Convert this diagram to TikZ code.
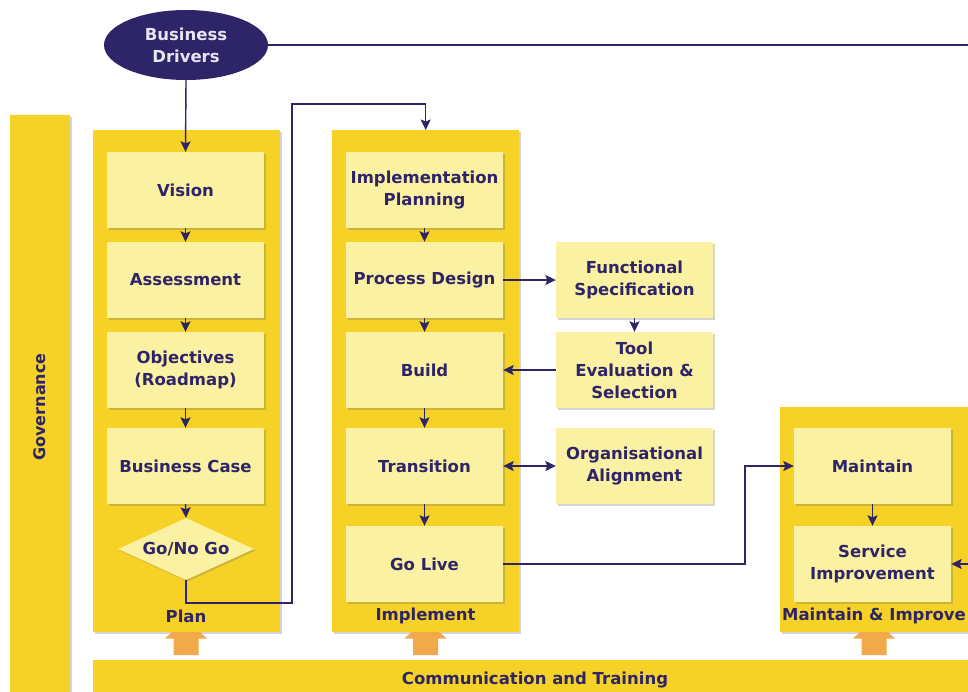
\documentclass[tikz,border=0pt]{standalone}
\usepackage{fontspec}
\setmainfont{DejaVu Sans}
\usetikzlibrary{shapes.geometric,arrows.meta,shadows}
\definecolor{navy}{HTML}{2E2468}
\definecolor{panelY}{HTML}{F5D225}
\definecolor{boxY}{HTML}{FBF1A3}
\definecolor{orng}{HTML}{F2A94B}
\definecolor{lighttxt}{HTML}{E6E6F2}
\begin{document}
\begin{tikzpicture}[x=1pt,y=-1pt,
  shad/.style={drop shadow={shadow xshift=1.6pt,shadow yshift=-1.6pt,opacity=.28,fill=black!60}},
  panel/.style={fill=panelY,draw=none,shad,anchor=north west,inner sep=0pt},
  lbl/.style={font=\bfseries\fontsize{16.5}{20}\selectfont,text=navy,inner sep=0pt},
  box/.style={fill=boxY,draw=none,shad,minimum width=157pt,minimum height=76pt,
    align=center,font=\bfseries\fontsize{16.5}{22}\selectfont,text=navy,inner sep=0pt},
  conn/.style={draw=navy,line width=1.4pt},
  tip/.tip={Stealth[length=10.5pt,width=10pt,inset=2pt]},
  arr/.style={conn,-tip},
  darr/.style={conn,tip-tip}]
\useasboundingbox (0,0) rectangle (968,691);
\clip (0,0) rectangle (968,691);

% Governance and communication bars
\node[panel,minimum width=60pt,minimum height=590pt] (gov) at (10,115) {};
\node[lbl,rotate=90,font=\bfseries\fontsize{16}{19}\selectfont] (govtxt) at (40,407) {Governance};
\node[panel,minimum width=890pt,minimum height=40pt] (comm) at (93,660) {};
\node[lbl] (commtxt) at (535,680) {Communication and Training};

% phase panels
\node[panel,minimum width=187pt,minimum height=502pt] (plan) at (93,130) {};
\node[panel,minimum width=187pt,minimum height=502pt] (impl) at (332,130) {};
\node[panel,minimum width=200pt,minimum height=225pt] (maint) at (780,407) {};
\node[lbl] (plantxt) at (186,616) {Plan};
\node[lbl] (impltxt) at (425.5,616) {Implement};
\node[lbl] (mainttxt) at (874,616) {Maintain \& Improve};

% Business drivers
\node[ellipse,fill=navy,minimum width=164pt,minimum height=70pt,inner sep=0pt,
  align=center,font=\bfseries\fontsize{16.5}{22}\selectfont,text=lighttxt] (bd) at (186,45) {Business\\Drivers};

% Plan column
\node[box] (vision) at (185.5,190) {Vision};
\node[box] (assess) at (185.5,280) {Assessment};
\node[box] (obj) at (185.5,370) {Objectives\\(Roadmap)};
\node[box] (bcase) at (185.5,466) {Business Case};
\node[diamond,aspect=3,fill=boxY,shad,minimum width=136pt,minimum height=62pt,inner sep=0pt,
  font=\bfseries\fontsize{16.5}{20}\selectfont,text=navy] (gng) at (186,549) {Go/No Go};

% Implement column
\node[box] (iplan) at (424.5,190) {Implementation\\Planning};
\node[box] (pdes) at (424.5,280) {Process Design};
\node[box] (build) at (424.5,370) {Build};
\node[box] (trans) at (424.5,466) {Transition};
\node[box] (golive) at (424.5,564) {Go Live};

% side boxes
\node[box] (fspec) at (634.5,280) {Functional\\Specification};
\node[box] (tool) at (634.5,370) {Tool\\Evaluation \&\\Selection};
\node[box] (org) at (634.5,466) {Organisational\\Alignment};

% Maintain column
\node[box] (mtn) at (872.5,466) {Maintain};
\node[box] (serv) at (872.5,564) {Service\\Improvement};

% orange arrows
\foreach \x in {186,425.5,874}{
  \fill[orng] (\x-14,632) -- (\x+14,632) -- (\x+21,638.5) -- (\x+12.5,638.5) -- (\x+12.5,655)
    -- (\x-12.5,655) -- (\x-12.5,638.5) -- (\x-21,638.5) -- cycle;
}

% coordinates
\coordinate (edgeTop) at (975,45);
\coordinate (edgeR) at (975,564);
\coordinate (r1) at (292,603);
\coordinate (r2) at (292,104);
\coordinate (j1) at (745,564);

% connectors
\draw[conn] (bd.east) -- (edgeTop);
\draw[arr] (bd.south) -- (vision.north);
\draw[arr] (vision.south) -- (assess.north);
\draw[arr] (assess.south) -- (obj.north);
\draw[arr] (obj.south) -- (bcase.north);
\draw[arr] (bcase.south) -- (gng.north);
\draw[arr] (gng.south) |- (r1) -- (r2) -| (impl.north);
\draw[arr] (iplan.south) -- (pdes.north);
\draw[arr] (pdes.south) -- (build.north);
\draw[arr] (build.south) -- (trans.north);
\draw[arr] (trans.south) -- (golive.north);
\draw[arr] (pdes.east) -- (fspec.west);
\draw[arr] (fspec.south) -- (tool.north);
\draw[arr] (tool.west) -- (build.east);
\draw[darr] (trans.east) -- (org.west);
\draw[arr] (golive.east) -- (j1) |- (mtn.west);
\draw[arr] (mtn.south) -- (serv.north);
\draw[arr] (edgeR) -- (serv.east);
\end{tikzpicture}
\end{document}
